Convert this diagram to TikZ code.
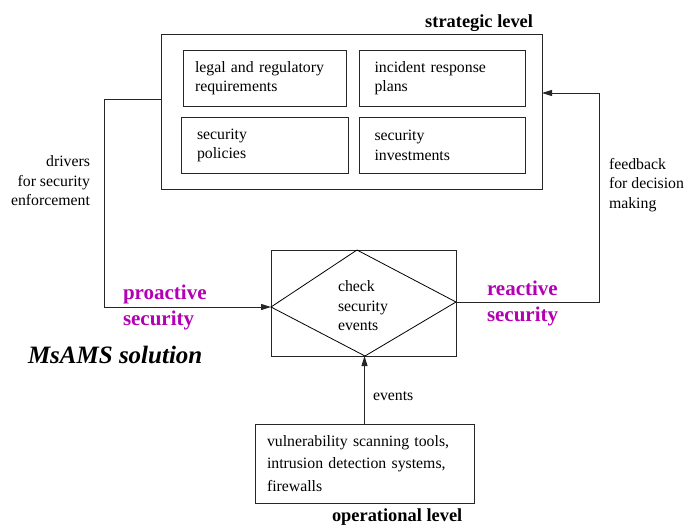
\documentclass[tikz,border=0pt]{standalone}
\usepackage{fontspec}
\setmainfont{Liberation Serif}
\usetikzlibrary{arrows.meta,calc}
\definecolor{secmag}{RGB}{180,0,180}
\begin{document}
\begin{tikzpicture}[x=1pt,y=-1pt,
  every node/.style={inner sep=0pt,outer sep=0pt,font=\fontsize{15.8}{19.5}\selectfont},
  ln/.style={line width=1pt,draw=black!85},
  itembox/.style={ln,draw,minimum height=56pt,text width=#1,align=left},
  levellabel/.style={font=\fontsize{18.4}{22}\selectfont\bfseries},
  mode/.style={font=\fontsize{21}{26}\selectfont\bfseries,text=secmag,align=left,anchor=north west},
  note/.style={align=#1},
  arr/.style={ln,-{Triangle[length=10pt,width=6pt]}}]
\useasboundingbox (0,0) rectangle (688,525);

% strategic level
\node[ln,draw,minimum width=381pt,minimum height=155pt] (strat) at (351.5,111.5) {};
\node[levellabel,anchor=base east] (stratlbl) at (533,27) {strategic level};
\node[itembox=139pt,minimum width=163pt,inner xsep=12pt] (legal) at (264.5,78) {legal and regulatory\\requirements};
\node[itembox=136pt,minimum width=161pt,inner xsep=15pt] (incident) at (442.5,78) {incident response\\plans};
\node[itembox=135pt,minimum width=163pt,inner xsep=16pt] (policies) at (264.5,145.5) {security\\policies};
\node[itembox=136pt,minimum width=161pt,inner xsep=15pt] (invest) at (442.5,145.5) {security\\investments};

% check box with the decision diamond
\node[ln,draw,minimum width=185pt,minimum height=106pt] (check) at (363.5,303) {};
\coordinate (dt) at (357,250);
\coordinate (dr) at (456,302);
\coordinate (db) at (365,356);
\coordinate (dl) at (271,307);
\draw[line width=0.8pt] (dt) -- (dr) -- (db) -- (dl) -- cycle;
\node[align=left,anchor=west] (checktxt) at (338,306) {check\\security\\events};

% operational level
\node[ln,draw,minimum width=219pt,minimum height=79pt,text width=195pt,align=left,
  font=\fontsize{15.8}{22.5}\selectfont] (oper) at (364.5,463.5) {vulnerability scanning tools,\\intrusion detection systems,\\firewalls};
\node[levellabel,anchor=base west] (operlbl) at (332,521) {operational level};

% connectors
\coordinate (lb1) at (104,99);
\coordinate (lb2) at (104,307);
\draw[arr] (strat.west |- lb1) -- (lb1) -- (lb2) -- (dl);
\coordinate (rb1) at (599,302);
\coordinate (rb2) at (599,93);
\draw[arr] (dr) -- (rb1) -- (rb2) -- (strat.east |- rb2);
\draw[arr] (oper.north) -- (oper.north |- check.south);

% labels
\node[note=right,anchor=east] (drivers) at (90,181) {drivers\\for security\\enforcement};
\node[note=left,anchor=west] (feedback) at (609,185) {feedback\\for decision\\making};
\node[anchor=west] (events) at (373,396) {events};
\node[mode] (proactive) at (123,285) {proactive\\security};
\node[mode] (reactive) at (487,281) {reactive\\security};
\node[anchor=west,font=\fontsize{25}{30}\selectfont\bfseries\itshape] (msams) at (28,355) {MsAMS solution};
\end{tikzpicture}
\end{document}
